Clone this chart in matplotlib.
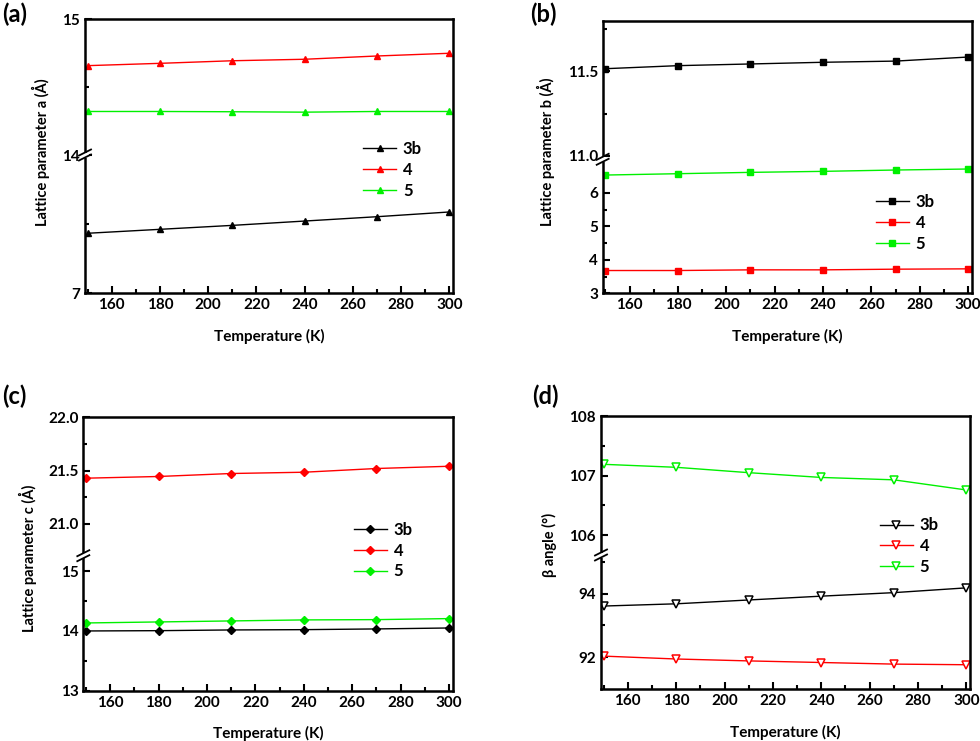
import numpy as np
import matplotlib
matplotlib.use('Agg')
import matplotlib.pyplot as plt
from matplotlib.ticker import FixedLocator, FormatStrFormatter

plt.rcParams['font.family'] = ['Lato', 'DejaVu Sans']
plt.rcParams['font.weight'] = 'bold'
plt.rcParams['axes.labelweight'] = 'bold'

# Data
temps = [150, 180, 210, 240, 270, 300]
series = ['3b', '4', '5']

a_3b = [10.03, 10.23, 10.43, 10.65, 10.87, 11.11]
a_4 = [14.657, 14.674, 14.693, 14.704, 14.728, 14.748]
a_5 = [14.32, 14.32, 14.318, 14.315, 14.32, 14.32]

b_3b = [11.516, 11.534, 11.544, 11.554, 11.561, 11.585]
b_4 = [3.68, 3.68, 3.70, 3.70, 3.72, 3.73]
b_5 = [6.53, 6.57, 6.61, 6.64, 6.68, 6.71]

c_3b = [14.00, 14.005, 14.017, 14.022, 14.034, 14.05]
c_4 = [21.428, 21.444, 21.472, 21.484, 21.519, 21.540]
c_5 = [14.134, 14.151, 14.168, 14.185, 14.19, 14.207]

beta_3b = [93.61, 93.68, 93.80, 93.92, 94.03, 94.18]
beta_4 = [92.04, 91.95, 91.89, 91.84, 91.79, 91.77]
beta_5 = [107.19, 107.14, 107.05, 106.97, 106.93, 106.76]

colors = ['black', '#ff0000', '#00f000']

fig = plt.figure(figsize=(9.8, 7.41), dpi=100)


def px_axes(left, right, top, bottom):
    return fig.add_axes([left / 980, 1 - bottom / 741, (right - left) / 980, (bottom - top) / 741])


# Piecewise-linear y scale to mimic the broken axis
def broken_scale(ax, vals, pos):
    fwd = lambda y: np.interp(y, vals, pos)
    inv = lambda p: np.interp(p, pos, vals)
    ax.set_yscale('function', functions=(fwd, inv))
    ax.set_ylim(vals[0], vals[-1])
    return pos[1] / pos[-1]


def break_mark(ax, frac):
    w = ax.bbox.width
    h = ax.bbox.height
    dx = 6 / w
    dy = 3 / h
    gap = 2.5 / h
    ax.add_patch(plt.Rectangle((-0.01, frac - gap), 0.02, 2 * gap, transform=ax.transAxes,
                               facecolor='white', edgecolor='none', clip_on=False, zorder=10))
    for off in (-gap, gap):
        ax.plot([-dx, dx], [frac + off - dy, frac + off + dy], transform=ax.transAxes,
                color='black', lw=1.3, clip_on=False, zorder=11)


def style(ax, major, minor, fmt, ylabel, ylab_xy, leg_xy, marker, ms, hollow=False, data=()):
    for vals, col, lab in zip(data, colors, series):
        if hollow:
            ax.plot(temps, vals, color=col, lw=1, marker=marker, ms=ms, mfc='white', mec=col,
                    mew=1.1, label=lab)
        else:
            ax.plot(temps, vals, color=col, lw=1, marker=marker, ms=ms, mec=col, label=lab)
    ax.set_xlim(148.9, 301.5)
    ax.xaxis.set_major_locator(FixedLocator([160, 180, 200, 220, 240, 260, 280, 300]))
    ax.xaxis.set_minor_locator(FixedLocator([150, 170, 190, 210, 230, 250, 270, 290]))
    ax.yaxis.set_major_locator(FixedLocator(major))
    ax.yaxis.set_minor_locator(FixedLocator(minor))
    ax.yaxis.set_major_formatter(FormatStrFormatter(fmt))
    ax.tick_params(which='both', direction='in', top=False, right=False, labelsize=11, width=1.5)
    ax.tick_params(which='major', length=5)
    ax.tick_params(which='minor', length=3)
    for s in ax.spines.values():
        s.set_linewidth(1.8)
    ax.set_xlabel('Temperature (K)', fontsize=11, labelpad=12)
    ax.set_ylabel(ylabel, fontsize=10.5)
    ax.yaxis.set_label_coords(*ylab_xy)
    ax.legend(loc='center left', bbox_to_anchor=leg_xy, frameon=False, fontsize=12,
              handlelength=2.0, handletextpad=0.4, labelspacing=0.28, borderpad=0, borderaxespad=0)


# (a)
ax = px_axes(85, 453, 19, 293)
fr = broken_scale(ax, [7, 14, 15], [0, 138, 274])
style(ax, [7, 14, 15], [10.5, 14.5], '%g', 'Lattice parameter a (Å)', (-0.095, 0.515),
      (0.755, 0.449), '^', 5, data=(a_3b, a_4, a_5))
break_mark(ax, fr)

# (b)
ax = px_axes(602.7, 971.7, 20.7, 293.3)
fr = broken_scale(ax, [3, 7, 10.98, 11.8], [0, 134, 134.01, 272.6])
style(ax, [3, 4, 5, 6, 11.0, 11.5], [3.5, 4.5, 5.5, 6.5, 11.25, 11.75], '%g',
      'Lattice parameter b (Å)', (-0.129, 0.518), (0.74, 0.258), 's', 4.5, data=(b_3b, b_4, b_5))
ax.yaxis.set_major_formatter(plt.FuncFormatter(lambda v, p: '%.1f' % v if v > 10 else '%d' % v))
break_mark(ax, fr)

# (c)
ax = px_axes(83.3, 452.7, 417.3, 690.7)
fr = broken_scale(ax, [13, 15.26, 20.70, 22.0], [0, 135, 135.01, 273.4])
style(ax, [13, 14, 15, 21.0, 21.5, 22.0], [13.5, 14.5, 21.25, 21.75], '%g',
      'Lattice parameter c (Å)', (-0.125, 0.485), (0.732, 0.512), 'D', 4, data=(c_3b, c_4, c_5))
ax.yaxis.set_major_formatter(plt.FuncFormatter(lambda v, p: '%.1f' % v if v > 20 else '%d' % v))
break_mark(ax, fr)

# (d)
ax = px_axes(601, 970, 416, 689.3)
fr = broken_scale(ax, [91, 95.21, 105.67, 108], [0, 134.3, 134.31, 273.3])
style(ax, [92, 94, 106, 107, 108], [93, 95, 106.5, 107.5], '%g', 'β angle (°)',
      (-0.119, 0.528), (0.755, 0.524), 'v', 5.5, hollow=True, data=(beta_3b, beta_4, beta_5))
break_mark(ax, fr)

# panel letters
for x, y, t in [(2, 3, '(a)'), (530, 3, '(b)'), (2, 385, '(c)'), (532, 385, '(d)')]:
    fig.text(x / 980, 1 - y / 741, t, fontsize=17, fontweight='bold', va='top', ha='left')

fig.savefig('out.png', dpi=100)
